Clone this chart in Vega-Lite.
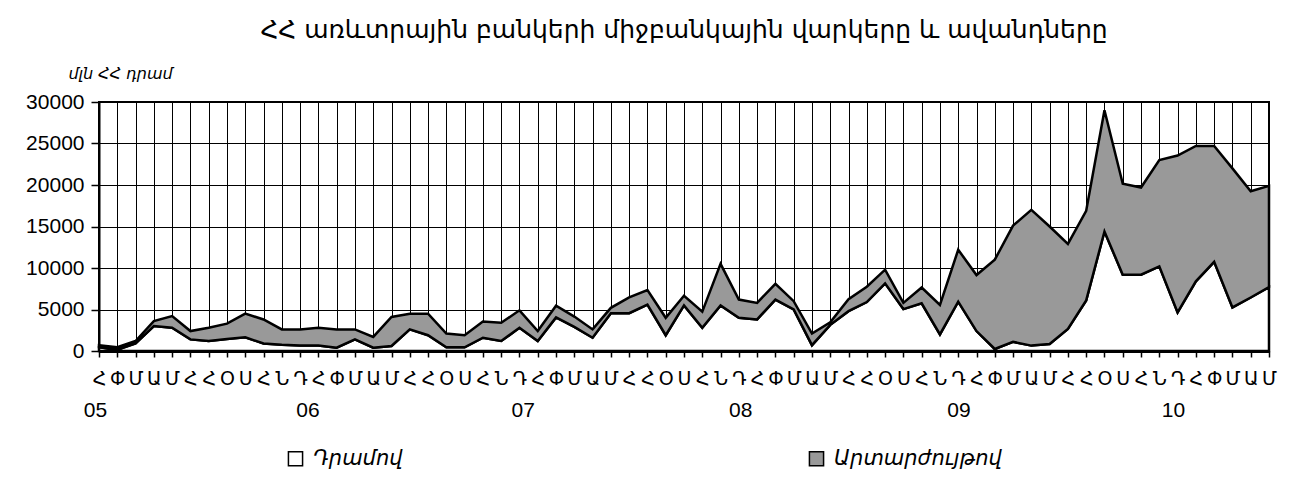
{
  "$schema": "https://vega.github.io/schema/vega-lite/v6.json",
  "width": 1170,
  "height": 249,
  "autosize": {"type": "none"},
  "padding": {"left": 99, "top": 102, "right": 24, "bottom": 130},
  "background": "white",
  "config": {
    "view": {"stroke": "black", "strokeWidth": 2},
    "font": "Liberation Sans, DejaVu Sans, sans-serif"
  },
  "title": {
    "text": "ՀՀ առևտրային բանկերի միջբանկային վարկերը և ավանդները",
    "font": "DejaVu Sans",
    "fontSize": 25,
    "fontWeight": "normal",
    "color": "black",
    "anchor": "middle",
    "offset": 22
  },
  "data": {
    "values": [
      {"t": "2005-01", "dram": 450, "fx": 250},
      {"t": "2005-02", "dram": 150, "fx": 300},
      {"t": "2005-03", "dram": 900, "fx": 300},
      {"t": "2005-04", "dram": 3000, "fx": 600},
      {"t": "2005-05", "dram": 2800, "fx": 1400},
      {"t": "2005-06", "dram": 1400, "fx": 1000},
      {"t": "2005-07", "dram": 1200, "fx": 1600},
      {"t": "2005-08", "dram": 1450, "fx": 1850},
      {"t": "2005-09", "dram": 1650, "fx": 2850},
      {"t": "2005-10", "dram": 900, "fx": 2900},
      {"t": "2005-11", "dram": 750, "fx": 1850},
      {"t": "2005-12", "dram": 650, "fx": 1950},
      {"t": "2006-01", "dram": 650, "fx": 2150},
      {"t": "2006-02", "dram": 400, "fx": 2200},
      {"t": "2006-03", "dram": 1400, "fx": 1200},
      {"t": "2006-04", "dram": 400, "fx": 1300},
      {"t": "2006-05", "dram": 600, "fx": 3500},
      {"t": "2006-06", "dram": 2600, "fx": 1900},
      {"t": "2006-07", "dram": 1900, "fx": 2600},
      {"t": "2006-08", "dram": 450, "fx": 1650},
      {"t": "2006-09", "dram": 450, "fx": 1450},
      {"t": "2006-10", "dram": 1600, "fx": 1950},
      {"t": "2006-11", "dram": 1200, "fx": 2200},
      {"t": "2006-12", "dram": 2800, "fx": 2100},
      {"t": "2007-01", "dram": 1200, "fx": 1200},
      {"t": "2007-02", "dram": 4050, "fx": 1400},
      {"t": "2007-03", "dram": 2900, "fx": 1250},
      {"t": "2007-04", "dram": 1600, "fx": 1000},
      {"t": "2007-05", "dram": 4550, "fx": 650},
      {"t": "2007-06", "dram": 4550, "fx": 1900},
      {"t": "2007-07", "dram": 5600, "fx": 1750},
      {"t": "2007-08", "dram": 1900, "fx": 2100},
      {"t": "2007-09", "dram": 5500, "fx": 1150},
      {"t": "2007-10", "dram": 2800, "fx": 1950},
      {"t": "2007-11", "dram": 5500, "fx": 5000},
      {"t": "2007-12", "dram": 4000, "fx": 2200},
      {"t": "2008-01", "dram": 3800, "fx": 2000},
      {"t": "2008-02", "dram": 6200, "fx": 1900},
      {"t": "2008-03", "dram": 5000, "fx": 1000},
      {"t": "2008-04", "dram": 700, "fx": 1400},
      {"t": "2008-05", "dram": 3150, "fx": 300},
      {"t": "2008-06", "dram": 4800, "fx": 1450},
      {"t": "2008-07", "dram": 5900, "fx": 1850},
      {"t": "2008-08", "dram": 8150, "fx": 1650},
      {"t": "2008-09", "dram": 5050, "fx": 750},
      {"t": "2008-10", "dram": 5750, "fx": 1900},
      {"t": "2008-11", "dram": 2000, "fx": 3550},
      {"t": "2008-12", "dram": 5950, "fx": 6250},
      {"t": "2009-01", "dram": 2400, "fx": 6750},
      {"t": "2009-02", "dram": 250, "fx": 10750},
      {"t": "2009-03", "dram": 1100, "fx": 14000},
      {"t": "2009-04", "dram": 650, "fx": 16350},
      {"t": "2009-05", "dram": 850, "fx": 14150},
      {"t": "2009-06", "dram": 2650, "fx": 10250},
      {"t": "2009-07", "dram": 6100, "fx": 10800},
      {"t": "2009-08", "dram": 14400, "fx": 14600},
      {"t": "2009-09", "dram": 9200, "fx": 10950},
      {"t": "2009-10", "dram": 9200, "fx": 10500},
      {"t": "2009-11", "dram": 10200, "fx": 12800},
      {"t": "2009-12", "dram": 4650, "fx": 18900},
      {"t": "2010-01", "dram": 8400, "fx": 16300},
      {"t": "2010-02", "dram": 10750, "fx": 13950},
      {"t": "2010-03", "dram": 5250, "fx": 16750},
      {"t": "2010-04", "dram": 6450, "fx": 12800},
      {"t": "2010-05", "dram": 7700, "fx": 12200}
    ]
  },
  "transform": [{"fold": ["dram", "fx"], "as": ["s", "v"]}],
  "layer": [
    {
      "mark": {"type": "area", "stroke": "black", "strokeWidth": 2.5, "strokeJoin": "miter"},
      "encoding": {
        "x": {
          "field": "t",
          "type": "ordinal",
          "sort": null,
          "scale": {"type": "point", "padding": 0},
          "axis": {
            "orient": "bottom",
            "title": null,
            "grid": true,
            "gridColor": "black",
            "gridWidth": 1,
            "gridOpacity": 1,
            "domainColor": "black",
            "domainWidth": 3,
            "tickColor": "black",
            "tickSize": 6,
            "tickWidth": 1.5,
            "labelAngle": 0,
            "labelFont": "DejaVu Sans",
            "labelFontSize": 19,
            "labelColor": "black",
            "labelPadding": 12,
            "labelOverlap": false,
            "labelFlush": false,
            "labelExpr": "['Հ','Փ','Մ','Ա','Մ','Հ','Հ','Օ','Ս','Հ','Ն','Դ'][toNumber(slice(datum.value,5,7))-1]"
          }
        },
        "y": {
          "field": "v",
          "type": "quantitative",
          "stack": "zero",
          "scale": {"domain": [0, 30000], "nice": false},
          "axis": {
            "title": "մլն ՀՀ դրամ",
            "titleAngle": 0,
            "titleAlign": "left",
            "titleBaseline": "middle",
            "titleX": -31,
            "titleY": -29,
            "titleFont": "DejaVu Sans",
            "titleFontStyle": "italic",
            "titleFontWeight": "normal",
            "titleFontSize": 16,
            "titleColor": "black",
            "values": [0, 5000, 10000, 15000, 20000, 25000, 30000],
            "format": "d",
            "grid": true,
            "gridColor": "black",
            "gridWidth": 1,
            "gridOpacity": 1,
            "domainColor": "black",
            "domainWidth": 2,
            "tickColor": "black",
            "tickSize": 8,
            "tickWidth": 1.5,
            "labelFont": "Liberation Sans",
            "labelFontSize": 21,
            "labelColor": "black",
            "labelPadding": 7
          }
        },
        "fill": {
          "field": "s",
          "type": "nominal",
          "scale": {"domain": ["dram", "fx"], "range": ["white", "#999999"]},
          "legend": {
            "orient": "none",
            "legendX": 186,
            "legendY": 346,
            "direction": "horizontal",
            "columns": 2,
            "columnPadding": 403,
            "title": null,
            "symbolType": "square",
            "symbolSize": 200,
            "symbolStrokeColor": "black",
            "symbolStrokeWidth": 1.5,
            "symbolOpacity": 1,
            "labelFont": "DejaVu Sans",
            "labelFontStyle": "italic",
            "labelFontSize": 21,
            "labelLimit": 500,
            "labelColor": "black",
            "labelOffset": 7,
            "labelExpr": "datum.label == 'dram' ? 'Դրամով' : 'Արտարժույթով'"
          }
        },
        "order": {"field": "s"}
      }
    },
    {
      "mark": {"type": "point", "opacity": 0},
      "encoding": {
        "x": {
          "field": "t",
          "type": "ordinal",
          "sort": null,
          "axis": {
            "orient": "bottom",
            "title": null,
            "grid": false,
            "ticks": false,
            "domain": false,
            "labelAngle": 0,
            "labelFont": "Liberation Sans",
            "labelFontSize": 21,
            "labelColor": "black",
            "labelPadding": 48,
            "labelOverlap": false,
            "labelFlush": false,
            "labelExpr": "slice(datum.value,5,7) == '01' ? slice(datum.value,2,4) : ''",
            "labelOffset": {
              "condition": [
                {"test": "datum.value == '2006-01'", "value": -11},
                {"test": "datum.value == '2007-01'", "value": -15},
                {"test": "datum.value == '2008-01'", "value": -17},
                {"test": "datum.value == '2009-01'", "value": -18},
                {"test": "datum.value == '2010-01'", "value": -23}
              ],
              "value": -4
            }
          }
        }
      }
    }
  ],
  "resolve": {"axis": {"x": "independent"}}
}
